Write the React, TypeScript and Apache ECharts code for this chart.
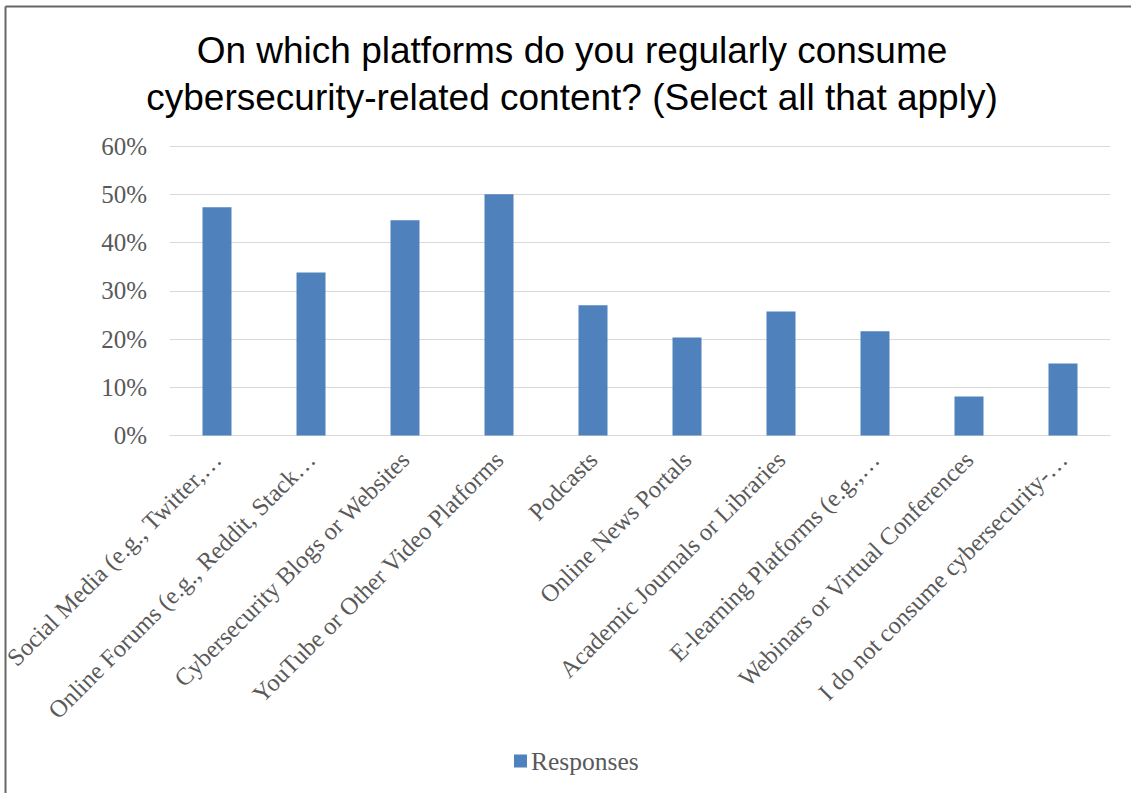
import React, { useEffect, useRef } from "react";
import * as echarts from "echarts";

const titleLines = [
  "On which platforms do you regularly consume",
  "cybersecurity-related content? (Select all that apply)",
];
const categories = [
  "Social Media (e.g., Twitter,…",
  "Online Forums (e.g., Reddit, Stack…",
  "Cybersecurity Blogs or Websites",
  "YouTube or Other Video Platforms",
  "Podcasts",
  "Online News Portals",
  "Academic Journals or Libraries",
  "E-learning Platforms (e.g.,…",
  "Webinars or Virtual Conferences",
  "I do not consume cybersecurity-…",
];
const responses = [0.473, 0.338, 0.446, 0.5, 0.27, 0.203, 0.257, 0.216, 0.081, 0.149];
const seriesName = "Responses";
const yTicks = { min: 0, max: 0.6, interval: 0.1 };

export default function App() {
  const ref = useRef<HTMLDivElement>(null);
  useEffect(() => {
    document.body.style.margin = "0";
    const chart = echarts.init(ref.current!, null, { renderer: "svg" });
    const serif = "'Liberation Serif', Cambria, serif";
    chart.setOption({
      animation: false,
      backgroundColor: "#ffffff",
      title: {
        text: titleLines.join("\n"),
        left: 572,
        top: 27,
        padding: 0,
        textAlign: "center",
        textStyle: {
          fontFamily: "'Liberation Sans', Arial, sans-serif",
          fontSize: 37,
          fontWeight: "normal",
          color: "#000000",
          lineHeight: 47,
        },
      },
      legend: {
        data: [seriesName],
        left: 514,
        top: 748,
        padding: 0,
        icon: "rect",
        itemWidth: 13,
        itemHeight: 13,
        itemGap: 10,
        textStyle: { fontFamily: serif, fontSize: 25.5, color: "#595959", padding: [0, 0, 0, -1] },
      },
      grid: {
        left: 170,
        right: 21,
        top: 146,
        bottom: 357.5,
        containLabel: false,
        outerBoundsMode: "none",
      },
      xAxis: {
        type: "category",
        data: categories,
        axisLine: { lineStyle: { color: "#d9d9d9", width: 1 } },
        axisTick: { show: false },
        axisLabel: {
          rotate: 45,
          interval: 0,
          margin: 20,
          fontFamily: serif,
          fontSize: 24.5,
          color: "#595959",
        },
      },
      yAxis: {
        type: "value",
        min: yTicks.min,
        max: yTicks.max,
        interval: yTicks.interval,
        axisLine: { show: false },
        axisTick: { show: false },
        splitLine: { lineStyle: { color: "#d9d9d9", width: 1 } },
        axisLabel: {
          margin: 23,
          fontFamily: serif,
          fontSize: 25,
          color: "#595959",
          formatter: (v: number) => Math.round(v * 100) + "%",
        },
      },
      series: [
        {
          name: seriesName,
          type: "bar",
          data: responses,
          barWidth: 29,
          itemStyle: { color: "#4F81BD" },
        },
      ],
      graphic: [
        { type: "line", shape: { x1: 5.5, y1: 6.5, x2: 1131, y2: 6.5 }, style: { stroke: "#666666", lineWidth: 2 } },
        { type: "line", shape: { x1: 5.5, y1: 6.5, x2: 5.5, y2: 793 }, style: { stroke: "#666666", lineWidth: 2 } },
      ],
    });
    return () => chart.dispose();
  }, []);
  return <div ref={ref} style={{ width: 1131, height: 793 }} />;
}
